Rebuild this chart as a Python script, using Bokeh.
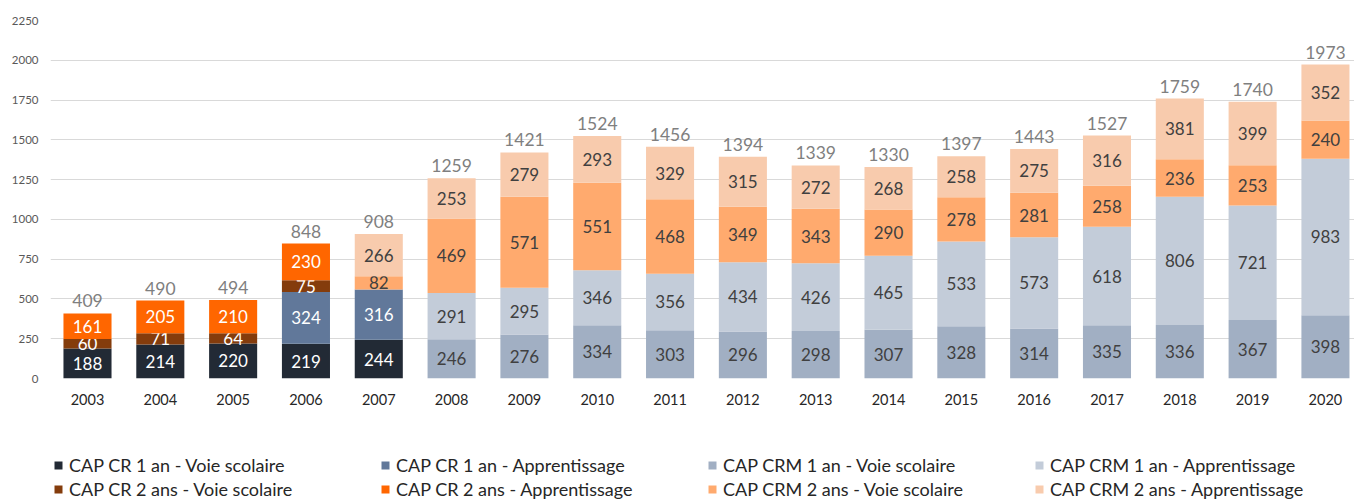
from bokeh.plotting import figure
from bokeh.models import ColumnDataSource, Range1d, FixedTicker, Legend, LegendItem
from bokeh.layouts import column
from bokeh.embed import file_html
from bokeh.resources import INLINE
from bokeh.core.properties import value

years = [2003, 2004, 2005, 2006, 2007, 2008, 2009, 2010, 2011, 2012,
         2013, 2014, 2015, 2016, 2017, 2018, 2019, 2020]

cr1_vs = [188, 214, 220, 219, 244, 0, 0, 0, 0, 0, 0, 0, 0, 0, 0, 0, 0, 0]
cr1_app = [0, 0, 0, 324, 316, 0, 0, 0, 0, 0, 0, 0, 0, 0, 0, 0, 0, 0]
cr2_vs = [60, 71, 64, 75, 0, 0, 0, 0, 0, 0, 0, 0, 0, 0, 0, 0, 0, 0]
cr2_app = [161, 205, 210, 230, 0, 0, 0, 0, 0, 0, 0, 0, 0, 0, 0, 0, 0, 0]
crm1_vs = [0, 0, 0, 0, 0, 246, 276, 334, 303, 296, 298, 307, 328, 314, 335, 336, 367, 398]
crm1_app = [0, 0, 0, 0, 0, 291, 295, 346, 356, 434, 426, 465, 533, 573, 618, 806, 721, 983]
crm2_vs = [0, 0, 0, 0, 82, 469, 571, 551, 468, 349, 343, 290, 278, 281, 258, 236, 253, 240]
crm2_app = [0, 0, 0, 0, 266, 253, 279, 293, 329, 315, 272, 268, 258, 275, 316, 381, 399, 352]

series = [
    ("CAP CR 1 an - Voie scolaire", cr1_vs, "#222A35", "#FFFFFF"),
    ("CAP CR 1 an - Apprentissage", cr1_app, "#61789A", "#FFFFFF"),
    ("CAP CR 2 ans - Voie scolaire", cr2_vs, "#843C0C", "#FFFFFF"),
    ("CAP CR 2 ans - Apprentissage", cr2_app, "#FF6600", "#FFFFFF"),
    ("CAP CRM 1 an - Voie scolaire", crm1_vs, "#A1AFC3", "#404040"),
    ("CAP CRM 1 an - Apprentissage", crm1_app, "#C3CCD9", "#404040"),
    ("CAP CRM 2 ans - Voie scolaire", crm2_vs, "#FFAA6E", "#404040"),
    ("CAP CRM 2 ans - Apprentissage", crm2_app, "#F8CBAD", "#404040"),
]
legend_order = [0, 1, 4, 5, 2, 3, 6, 7]

FONT = "Lato"
idx = list(range(len(years)))

# ---------------- main chart ----------------
p = figure(width=1354, height=420, output_backend="svg", toolbar_location=None,
           x_range=Range1d(-0.508, 17.399), y_range=Range1d(0, 2250),
           min_border_left=50, min_border_right=0, min_border_top=20,
           min_border_bottom=42)
p.outline_line_color = None
p.background_fill_color = "white"

p.xgrid.grid_line_color = None
p.ygrid.grid_line_color = "#D9D9D9"
p.ygrid.grid_line_width = 1

p.yaxis.ticker = FixedTicker(ticks=list(range(0, 2251, 250)))
p.yaxis.axis_line_color = None
p.yaxis.major_tick_line_color = None
p.yaxis.minor_tick_line_color = None
p.yaxis.major_tick_out = 0
p.yaxis.major_tick_in = 0
p.yaxis.major_label_standoff = 12
p.yaxis.major_label_text_font = FONT
p.yaxis.major_label_text_font_size = "11.5px"
p.yaxis.major_label_text_color = "#595959"

p.xaxis.ticker = FixedTicker(ticks=idx)
p.xaxis.major_label_overrides = {i: str(y) for i, y in zip(idx, years)}
p.xaxis.axis_line_color = None
p.xaxis.major_tick_line_color = None
p.xaxis.minor_tick_line_color = None
p.xaxis.major_tick_out = 0
p.xaxis.major_tick_in = 0
p.xaxis.major_label_standoff = 15
p.xaxis.major_label_text_font = FONT
p.xaxis.major_label_text_font_size = "14.5px"
p.xaxis.major_label_text_color = "#262626"

bottoms = [0] * len(years)
for name, vals, color, tcolor in series:
    xs, bots, tops, mids, labels = [], [], [], [], []
    for i, v in enumerate(vals):
        if v:
            xs.append(i)
            bots.append(bottoms[i])
            tops.append(bottoms[i] + v)
            mids.append(bottoms[i] + v / 2)
            labels.append(str(v))
            bottoms[i] += v
    src = ColumnDataSource(dict(x=xs, bottom=bots, top=tops, mid=mids, label=labels))
    p.vbar(x="x", bottom="bottom", top="top", width=0.66, source=src,
           fill_color=color, line_color=None)
    p.text(x="x", y="mid", text="label", source=src, text_font=value(FONT),
           text_font_size="17px", text_color=tcolor, text_align="center",
           text_baseline="middle")

totals = [sum(s[1][i] for s in series) for i in idx]
tsrc = ColumnDataSource(dict(x=idx, y=totals, label=[str(t) for t in totals]))
p.text(x="x", y="y", text="label", source=tsrc, text_font=value(FONT),
       text_font_size="17.5px", text_color="#7F7F7F", text_align="center",
       text_baseline="bottom", y_offset=-6)

# ---------------- legend strip ----------------
# Series renderers here are hidden; they only provide the legend swatches.
lg = figure(width=1354, height=80, output_backend="svg", toolbar_location=None,
            x_range=Range1d(-0.508, 17.399), y_range=Range1d(-2, -1),
            x_axis_location=None, y_axis_location=None,
            min_border_left=50, min_border_right=0, min_border_top=0,
            min_border_bottom=0)
lg.outline_line_color = None
lg.xgrid.grid_line_color = None
lg.ygrid.grid_line_color = None

swatches = {}
for name, vals, color, tcolor in series:
    swatches[name] = lg.vbar(x=idx, top=vals, width=0.66, fill_color=color,
                             line_color=None, visible=False)

items = [LegendItem(label=series[k][0], renderers=[swatches[series[k][0]]])
         for k in legend_order]
legend = Legend(items=items, orientation="horizontal", ncols=4,
                location=(3, 0), padding=0, margin=0, spacing=2,
                glyph_width=10, glyph_height=10, label_standoff=6,
                label_width=309, label_height=22,
                label_text_font=FONT, label_text_font_size="18px",
                label_text_color="#262626",
                border_line_color=None, background_fill_alpha=0)
lg.add_layout(legend, "center")

layout = column(p, lg, spacing=0)
open("out.html", "w").write(file_html(layout, INLINE))
